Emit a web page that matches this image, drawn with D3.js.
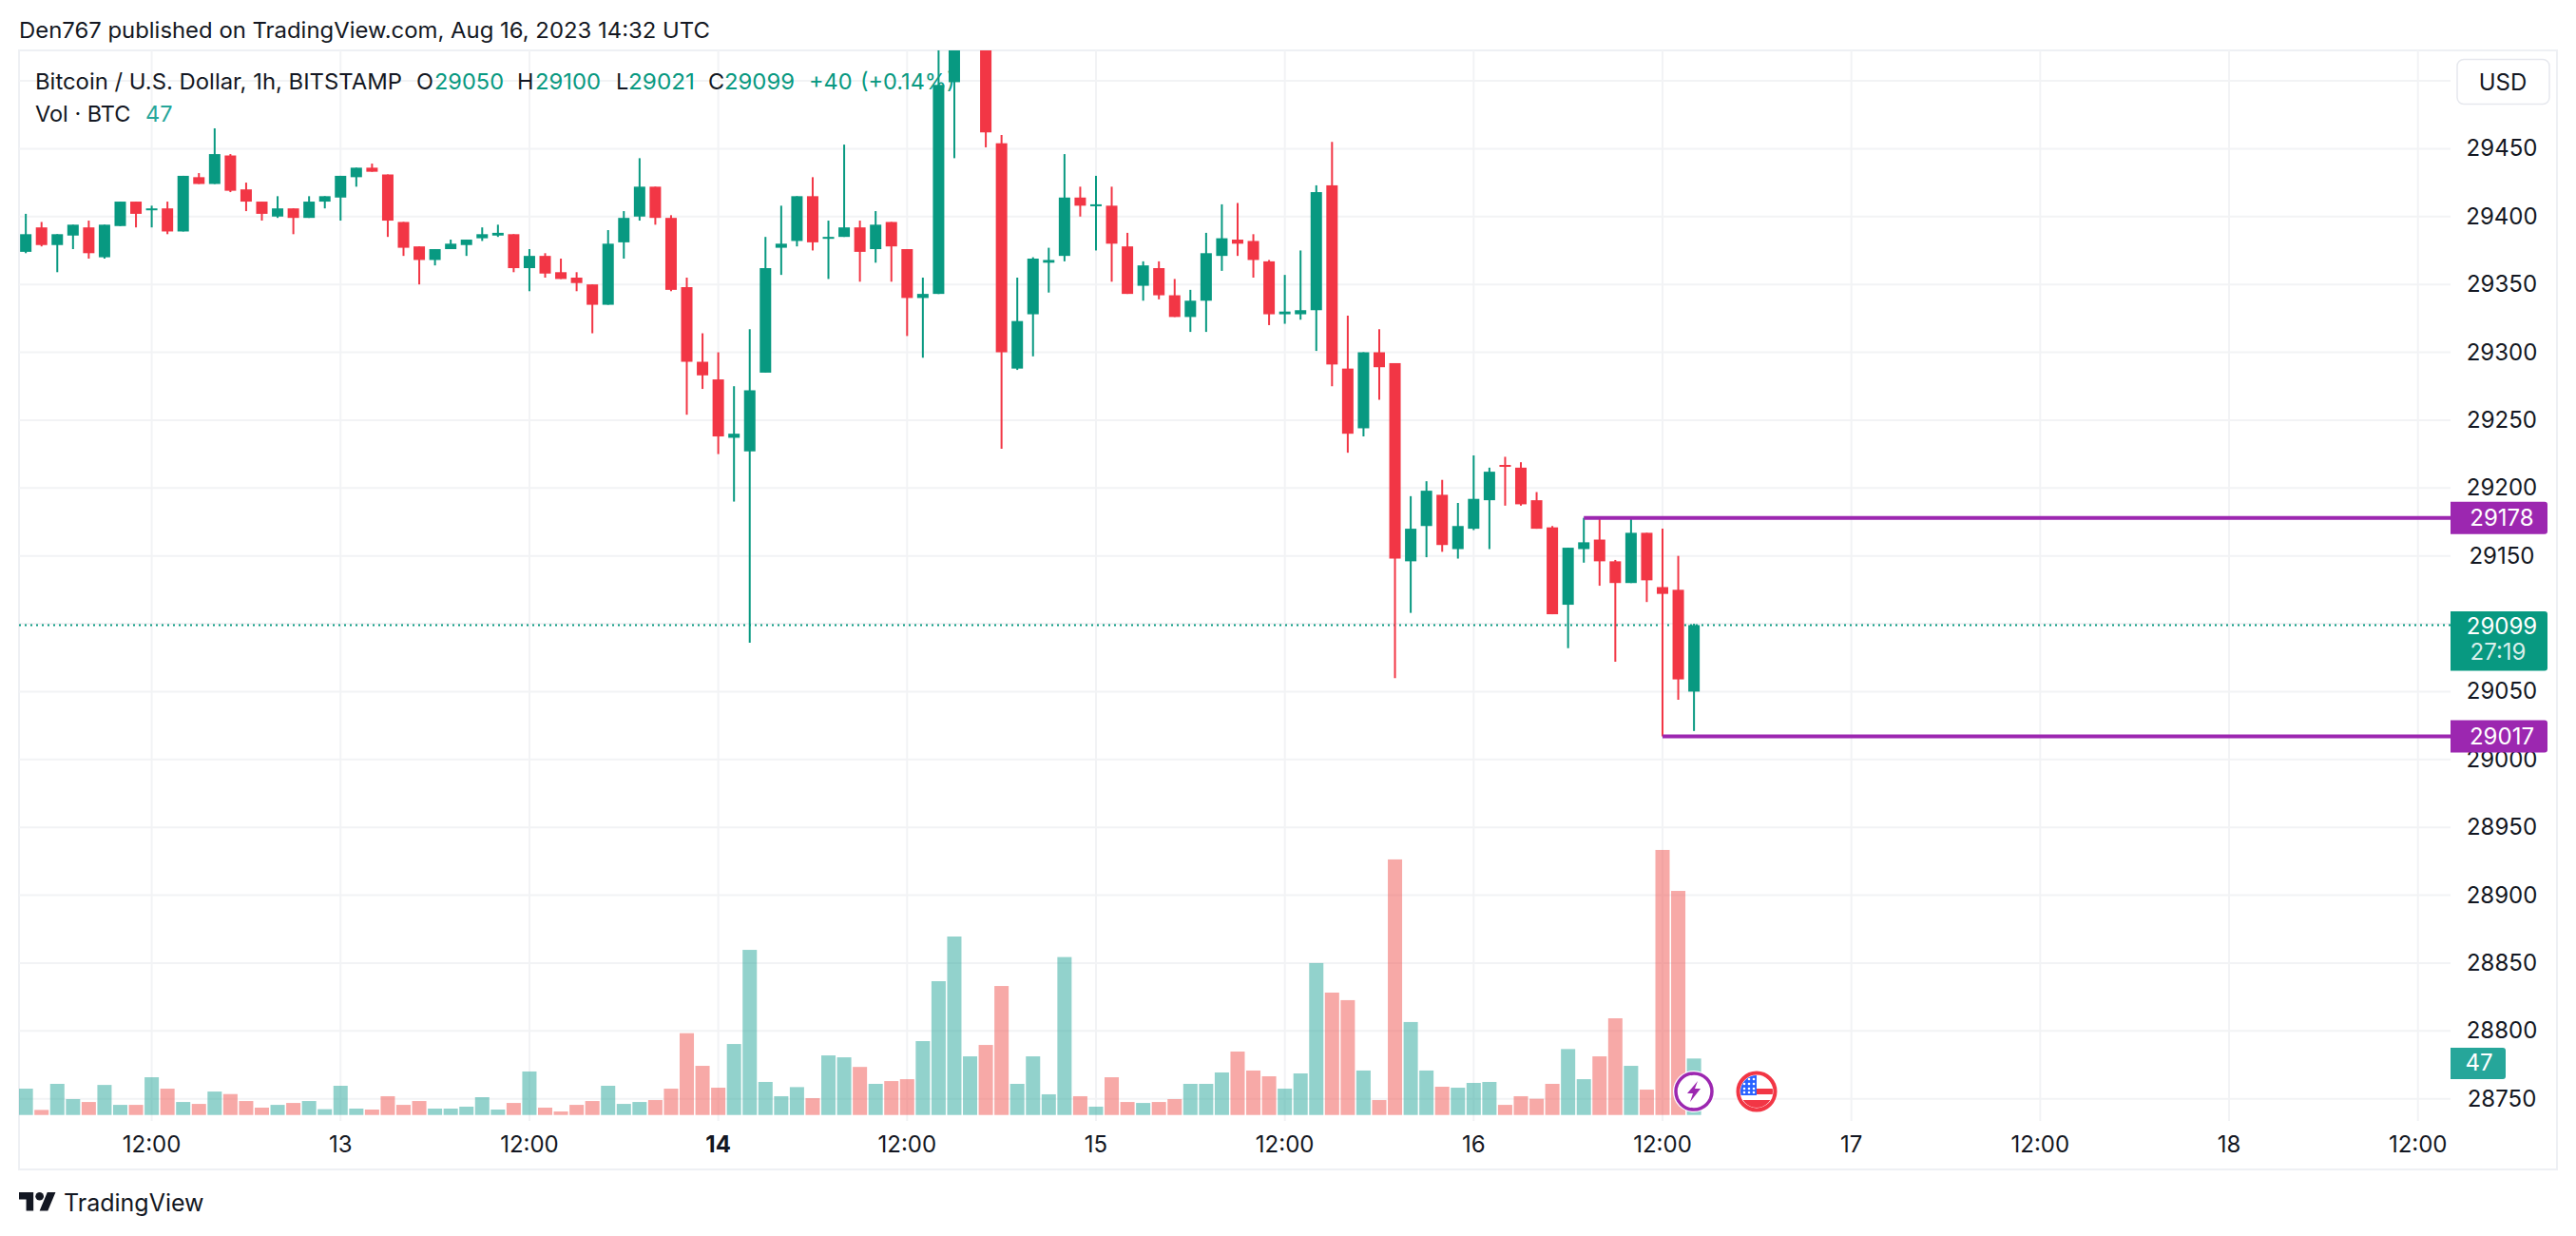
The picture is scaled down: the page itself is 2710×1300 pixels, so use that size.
<!DOCTYPE html>
<html><head><meta charset="utf-8">
<script src="https://cdn.jsdelivr.net/npm/d3@7"></script>
<style>html,body{margin:0;padding:0;background:#fff}svg{display:block}text{font-family:Inter,"Noto Sans",sans-serif}</style>
</head><body><div id="c"></div>
<script>
const firstHour = 4; // hours since Aug 12 00:00
const open = [29374,29392,29379,29386,29392,29370,29393,29411,29405,29406,29389,29429,29424,29445,29420,29411,29400,29406,29399,29411,29414,29429,29436,29431,29396,29378,29368,29376,29379,29384,29386,29387,29362,29371,29359,29355,29350,29335,29381,29400,29422,29399,29348,29293,29280,29237,29227,29285,29377,29382,29415,29384,29385,29392,29376,29396,29376,29340,29343,29499,29600,29620,29454,29288,29328,29366,29371,29414,29408,29408,29378,29349,29362,29342,29326,29338,29371,29383,29382,29367,29328,29328,29331,29423,29288,29244,29300,29292,29146,29172,29195,29155,29170,29191,29217,29215,29191,29171,29114,29155,29162,29146,29130,29167,29127,29125,29050];
const high = [29402,29396,29387,29394,29397,29394,29411,29411,29408,29411,29430,29432,29465,29446,29425,29411,29415,29406,29415,29415,29430,29436,29439,29431,29396,29378,29376,29383,29383,29392,29394,29387,29376,29373,29369,29359,29350,29390,29404,29443,29422,29401,29355,29314,29300,29275,29317,29385,29408,29415,29429,29397,29453,29397,29404,29396,29376,29355,29530,29610,29640,29625,29460,29355,29370,29377,29446,29422,29430,29422,29388,29367,29367,29354,29346,29388,29409,29410,29387,29368,29357,29375,29423,29455,29327,29300,29317,29292,29194,29205,29206,29189,29224,29215,29223,29219,29197,29172,29156,29178,29178,29147,29179,29167,29170,29150,29100];
const low = [29373,29378,29359,29376,29369,29369,29393,29392,29392,29387,29389,29424,29424,29418,29404,29397,29399,29387,29399,29406,29397,29422,29433,29385,29371,29350,29364,29376,29371,29382,29385,29359,29345,29355,29354,29345,29314,29335,29369,29397,29394,29345,29254,29273,29225,29190,29086,29285,29357,29378,29375,29354,29385,29352,29366,29352,29312,29296,29343,29443,29560,29451,29229,29287,29297,29344,29367,29400,29375,29352,29343,29338,29339,29326,29315,29315,29360,29371,29355,29320,29321,29324,29301,29275,29226,29238,29265,29060,29108,29149,29153,29148,29169,29155,29187,29187,29170,29107,29082,29145,29128,29072,29130,29116,29017,29044,29021];
const close = [29387,29379,29387,29394,29373,29394,29411,29402,29406,29389,29430,29424,29446,29419,29411,29402,29406,29399,29411,29415,29430,29436,29433,29397,29377,29368,29376,29380,29383,29387,29388,29362,29371,29358,29354,29351,29335,29380,29399,29422,29399,29346,29293,29283,29238,29240,29272,29362,29380,29415,29381,29385,29392,29374,29394,29378,29340,29343,29497,29600,29620,29462,29300,29323,29369,29368,29414,29408,29409,29380,29343,29364,29342,29326,29338,29373,29384,29380,29368,29328,29330,29331,29418,29291,29240,29300,29289,29148,29170,29198,29158,29172,29192,29212,29216,29188,29170,29107,29156,29160,29146,29130,29167,29132,29122,29059,29099];
const volume = [21.9,4.2,25.9,13.2,10.8,25,8.4,8.4,31.4,21.9,10.8,9.2,19.5,17.4,11.6,6.1,8.4,10,11.6,4.8,24.3,5.3,4.5,15.6,8.4,11.6,5.3,5.3,6.9,14.8,4.5,10,36.2,6.1,2.9,8.4,11.6,24.3,9.2,10.8,12.4,21.9,68.1,40.9,22.7,59.1,137.5,27.5,15.6,23.2,14,49.6,48,40,25.9,28.2,29.8,61.5,111.4,148.6,48.8,58.3,107.4,25.9,48.8,17.2,131.5,15.6,6.9,31.4,10.8,10,10.8,13.2,25.9,25.9,35.4,52.8,37,32.2,21.9,34.6,126.5,101.9,95.6,37,12.4,212.8,77.4,37,23.5,22.7,26.7,27.5,8.4,15.6,13.5,25.9,54.9,29.8,48.8,80.5,40.9,21.1,220.7,186.6,47];
const priceTicks = [29450,29400,29350,29300,29250,29200,29150,29100,29050,29000,28950,28900,28850,28800,28750];
const priceLabels = [29450,29400,29350,29300,29250,29200,29150,29050,29000,28950,28900,28850,28800,28750];
const gridPrices = [29500].concat(priceTicks);
const timeHours = [12,24,36,48,60,72,84,96,108,120,132,144,156];
const timeLabels = ["12:00","13","12:00","14","12:00","15","12:00","16","12:00","17","12:00","18","12:00"];
const boldLabel = "14";
const levelHigh = {price:29178, fromHour:103};
const levelLow = {price:29017, fromHour:108};
const lastPrice = 29099, lastVolume = 47, countdown = "27:19";
const legendParts = [
 ["Bitcoin / U.S. Dollar, 1h, BITSTAMP",37,"#131722",386],["O",438,"#131722"],["29050",457,"#089981",73],["H",544,"#131722"],["29100",563,"#089981",69],["L",648,"#131722"],["29021",661,"#089981",70],["C",745,"#131722"],["29099",762,"#089981",74],["+40",851,"#089981"],["(+0.14%)",905,"#089981"]];

const W=2710,H=1300,UP="#089981",DOWN="#F23645",GRID="#f2f3f5",INK="#131722",PURPLE="#9c27b0",TEAL="#26a69a";
const L=20,R=2578,TOP=53,BOT=1179;
const x=d3.scaleLinear().domain([12,108]).range([159.6,1749]);
const y=d3.scaleLinear().domain([29500,28750]).range([85,1155.7]);
const yv=d3.scaleLinear().domain([0,100]).range([1172.7,1046.4]);
const svg=d3.select("#c").append("svg").attr("width",W).attr("height",H).attr("viewBox",`0 0 ${W} ${H}`);
svg.append("rect").attr("width",W).attr("height",H).attr("fill","#fff");
const defs=svg.append("defs");
defs.append("clipPath").attr("id","pane").append("rect").attr("x",L).attr("y",TOP).attr("width",R-L).attr("height",BOT-TOP);
defs.append("clipPath").attr("id","flag").append("circle").attr("r",17);

svg.append("text").attr("x",20).attr("y",40).attr("font-size",23).attr("fill",INK).attr("textLength",727).attr("lengthAdjust","spacingAndGlyphs").text("Den767 published on TradingView.com, Aug 16, 2023 14:32 UTC");
svg.append("rect").attr("x",20).attr("y",53).attr("width",2670).attr("height",1177).attr("fill","none").attr("stroke","#eef0f4").attr("stroke-width",2);

svg.append("g").selectAll("line").data(gridPrices).join("line").attr("x1",L).attr("x2",R).attr("y1",d=>y(d)).attr("y2",d=>y(d)).attr("stroke",GRID).attr("stroke-width",2);
svg.append("g").selectAll("line").data(timeHours).join("line").attr("x1",d=>x(d)).attr("x2",d=>x(d)).attr("y1",TOP).attr("y2",BOT).attr("stroke",GRID).attr("stroke-width",2);

const rows=d3.range(open.length).map(i=>({h:firstHour+i,o:open[i],hi:high[i],lo:low[i],c:close[i],v:volume[i]}));
const chart=svg.append("g").attr("clip-path","url(#pane)");
chart.append("g").selectAll("rect").data(rows).join("rect").attr("x",d=>x(d.h)-7.5).attr("width",15).attr("y",d=>yv(d.v)).attr("height",d=>yv(0)-yv(d.v)).attr("fill",d=>d.c>=d.o?TEAL:"#ef5350").attr("fill-opacity",.5);
chart.append("line").attr("x1",L).attr("x2",R).attr("y1",y(lastPrice)).attr("y2",y(lastPrice)).attr("stroke",UP).attr("stroke-width",2).attr("stroke-dasharray","2 4");
chart.append("g").selectAll("line").data(rows).join("line").attr("x1",d=>x(d.h)).attr("x2",d=>x(d.h)).attr("y1",d=>y(d.hi)).attr("y2",d=>y(d.lo)).attr("stroke",d=>d.c>=d.o?UP:DOWN).attr("stroke-width",2);
chart.append("g").selectAll("rect").data(rows).join("rect").attr("x",d=>x(d.h)-6).attr("width",12).attr("y",d=>y(Math.max(d.o,d.c))).attr("height",d=>Math.max(2,y(Math.min(d.o,d.c))-y(Math.max(d.o,d.c)))).attr("fill",d=>d.c>=d.o?UP:DOWN);
[levelHigh,levelLow].forEach(l=>svg.append("line").attr("x1",x(l.fromHour)).attr("x2",R).attr("y1",y(l.price)).attr("y2",y(l.price)).attr("stroke",PURPLE).attr("stroke-width",4));

// legend
legendParts.forEach(p=>{const t=svg.append("text").attr("x",p[1]).attr("y",94).attr("font-size",23.5).attr("fill",p[2]).text(p[0]);if(p[3])t.attr("textLength",p[3]).attr("lengthAdjust","spacingAndGlyphs");});
svg.append("text").attr("x",37).attr("y",128).attr("font-size",23.5).attr("fill",INK).text("Vol · BTC");
svg.append("text").attr("x",153).attr("y",128).attr("font-size",23.5).attr("fill",TEAL).text(lastVolume);

// axes text
svg.append("g").selectAll("text").data(priceLabels).join("text").attr("x",2632).attr("y",d=>y(d)+8).attr("text-anchor","middle").attr("font-size",24).attr("fill",INK).text(d=>d);
svg.append("g").selectAll("text").data(timeHours).join("text").attr("x",d=>x(d)).attr("y",1212).attr("text-anchor","middle").attr("font-size",24).attr("fill",INK).attr("font-weight",(d,i)=>timeLabels[i]===boldLabel?700:400).text((d,i)=>timeLabels[i]);

// USD button
svg.append("rect").attr("x",2585).attr("y",62.5).attr("width",97).attr("height",47).attr("rx",7).attr("fill","#fff").attr("stroke","#e6e8ee").attr("stroke-width",1.5);
svg.append("text").attr("x",2633).attr("y",95).attr("text-anchor","middle").attr("font-size",24).attr("fill",INK).text("USD");

// price pills
function pill(x0,y0,w,h,fill){svg.append("path").attr("d",`M${x0},${y0}H${x0+w-3}a3,3 0 0 1 3,3V${y0+h-3}a3,3 0 0 1 -3,3H${x0}Z`).attr("fill",fill);}
[levelHigh,levelLow].forEach(l=>{const c=y(l.price);pill(R,c-17,102,34,PURPLE);svg.append("text").attr("x",2632).attr("y",c+8).attr("text-anchor","middle").attr("font-size",24).attr("fill","#fff").text(l.price);});
const lc=y(lastPrice);
pill(R,lc-14.5,102,62.5,UP);
svg.append("text").attr("x",2632).attr("y",lc+10).attr("text-anchor","middle").attr("font-size",24).attr("fill","#fff").text(lastPrice);
svg.append("text").attr("x",2628).attr("y",lc+37).attr("text-anchor","middle").attr("font-size",24).attr("fill","#fff").attr("fill-opacity",.85).text(countdown);
pill(R,1102,58,33,TEAL);
svg.append("text").attr("x",2608).attr("y",1126).attr("text-anchor","middle").attr("font-size",24).attr("fill","#fff").text(lastVolume);

// event markers
const bolt=svg.append("g").attr("transform","translate(1782,1148)");
bolt.append("circle").attr("r",22).attr("fill","#fff");
bolt.append("circle").attr("r",19).attr("fill","#fff").attr("stroke",PURPLE).attr("stroke-width",3.5);
bolt.append("path").attr("d","M4,-11 L-7,2 L-1,2 L-4,11 L7,-3 L1,-3 Z").attr("fill",PURPLE);
const fl=svg.append("g").attr("transform","translate(1848,1148)");
fl.append("circle").attr("r",22).attr("fill","#fff");
fl.append("circle").attr("r",19.5).attr("fill","#fff").attr("stroke",DOWN).attr("stroke-width",4);
const fc=fl.append("g").attr("clip-path","url(#flag)");
fc.append("rect").attr("x",0).attr("y",-3).attr("width",17).attr("height",6).attr("fill",DOWN);
fc.append("rect").attr("x",-17).attr("y",9).attr("width",34).attr("height",8).attr("fill",DOWN);
fc.append("rect").attr("x",-17).attr("y",-17).attr("width",17).attr("height",21).attr("fill","#2962ff");
d3.cross([-13,-8,-3],[-13,-8,-3,1]).forEach(p=>fc.append("circle").attr("cx",p[0]).attr("cy",p[1]).attr("r",1.3).attr("fill","#fff"));

// brand
const logo=svg.append("g").attr("transform","translate(20,1249.6) scale(1.083)").attr("fill",INK);
logo.append("path").attr("d","M14 22H7V11H0V4h14v18zM28 22h-8l7.5-18h8L28 22z");
logo.append("circle").attr("cx",20).attr("cy",8).attr("r",4);
svg.append("text").attr("x",67).attr("y",1274).attr("font-size",25).attr("fill",INK).text("TradingView");
</script></body></html>
